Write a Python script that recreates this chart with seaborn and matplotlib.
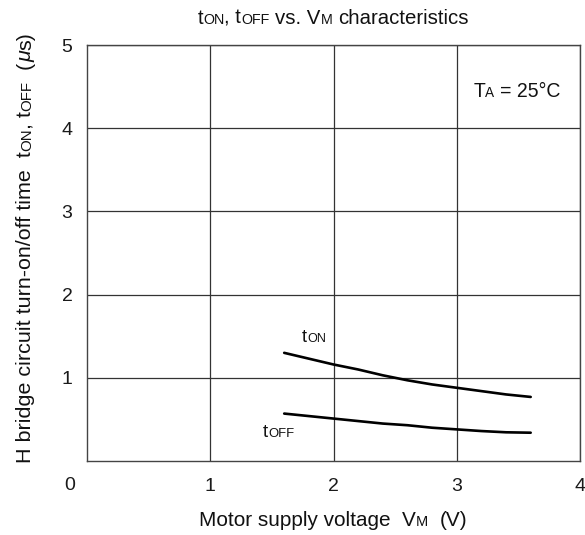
import matplotlib
matplotlib.use("Agg")
import matplotlib.pyplot as plt
import seaborn as sns
import pandas as pd

vm = [1.6, 1.8, 2.0, 2.2, 2.4, 2.6, 2.8, 3.0, 3.2, 3.4, 3.6]
t_on = [1.30, 1.23, 1.16, 1.10, 1.03, 0.97, 0.92, 0.88, 0.84, 0.80, 0.77]
t_off = [0.57, 0.54, 0.51, 0.48, 0.45, 0.43, 0.40, 0.38, 0.36, 0.345, 0.34]
x_ticks = [1, 2, 3, 4]
y_ticks = [1, 2, 3, 4, 5]

SUB = 0.7
title_pieces = [("t", 1, "normal"), ("ON", SUB, "normal"), (", t", 1, "normal"),
                ("OFF", SUB, "normal"), (" vs. V", 1, "normal"), ("M", SUB, "normal"),
                (" characteristics", 1, "normal")]
xlabel_pieces = [("Motor supply voltage  V", 1, "normal"), ("M", SUB, "normal"),
                 ("  (V)", 1, "normal")]
ylabel_pieces = [("H bridge circuit turn-on/off time  t", 1, "normal"), ("ON", SUB, "normal"),
                 (", t", 1, "normal"), ("OFF", SUB, "normal"), ("  (", 1, "normal"),
                 ("μ", 1, "italic"), ("s)", 1, "normal")]
ta_pieces = [("T", 1, "normal"), ("A", SUB, "normal"), (" = 25°C", 1, "normal")]
ton_pieces = [("t", 1, "normal"), ("ON", SUB, "normal")]
toff_pieces = [("t", 1, "normal"), ("OFF", SUB, "normal")]

sns.set_style("white")
plt.rcParams["font.family"] = ["Liberation Sans", "DejaVu Sans"]

W, H = 585, 535
df = pd.DataFrame({
    "vm": vm + vm,
    "t": t_on + t_off,
    "series": ["ton"] * len(vm) + ["toff"] * len(vm),
})

fig = plt.figure(figsize=(W / 100, H / 100), dpi=100)
ax = fig.add_axes([87 / W, 1 - 461 / H, (580 - 87) / W, (461 - 45) / H])

sns.lineplot(data=df, x="vm", y="t", units="series", estimator=None,
             color="black", linewidth=1.9, ax=ax, legend=False)

ax.set_xlim(0, 4)
ax.set_ylim(0, 5)
ax.set_xticks(x_ticks)
ax.set_yticks(y_ticks)
ax.set_xticklabels([str(v) for v in x_ticks])
ax.set_yticklabels([str(v) for v in y_ticks])
ax.tick_params(axis="x", length=0, pad=12.5, labelsize=14, colors="#1a1a1a")
ax.tick_params(axis="y", length=0, pad=10.5, labelsize=14, colors="#1a1a1a")
ax.grid(True, color="#333333", linewidth=0.9)
for s in ax.spines.values():
    s.set_color("#444444")
    s.set_linewidth(1.0)
ax.set_xlabel("")
ax.set_ylabel("")

fig.text(70 / W, 1 - 486 / H, "0", ha="center", va="center", fontsize=14, color="#1a1a1a")

renderer = fig.canvas.get_renderer()


def _width(s, size, style):
    t = fig.text(0, 0, s, fontsize=size, style=style)
    w = t.get_window_extent(renderer).width
    t.remove()
    return w


def _adv(s, size, style):
    return _width("|" + s + "|", size, style) - _width("||", size, style)


def rich(pieces, base, length, center, baseline, vertical=False, color="#111111"):
    tot = sum(_adv(s, base * k, st) for s, k, st in pieces)
    b = base * length / tot
    advs = [_adv(s, b * k, st) for s, k, st in pieces]
    L = sum(advs)
    pen = -L / 2
    for (s, k, st), a in zip(pieces, advs):
        lead = len(s) - len(s.lstrip(" "))
        off = _adv(" " * lead, b * k, st) if lead else 0
        txt = s.strip(" ")
        if txt:
            p = pen + off
            if vertical:
                fig.text(baseline / W, 1 - (center - p) / H, txt, fontsize=b * k, style=st,
                         rotation=90, rotation_mode="anchor", ha="left", va="baseline",
                         color=color)
            else:
                fig.text((center + p) / W, 1 - baseline / H, txt, fontsize=b * k, style=st,
                         ha="left", va="baseline", color=color)
        pen += a


rich(title_pieces, 12, 271, 333, 24)
rich(xlabel_pieces, 12, 270, 333, 526)
rich(ylabel_pieces, 12, 431, 247.5, 31, vertical=True)
rich(ta_pieces, 12, 87, 516.5, 97)
rich(ton_pieces, 12, 24, 314, 342)
rich(toff_pieces, 12, 31, 278.5, 437)

fig.savefig("out.png", dpi=100)
